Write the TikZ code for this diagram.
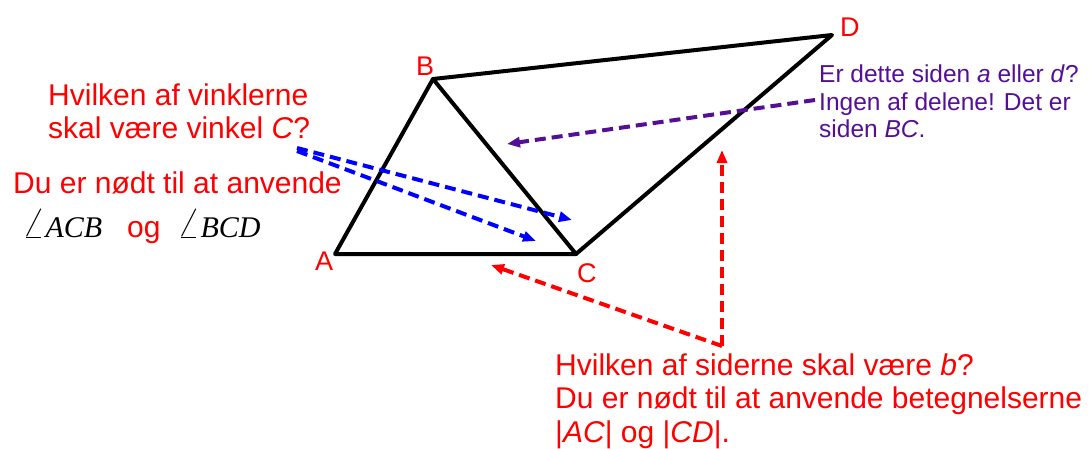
\documentclass[tikz,border=0pt]{standalone}
\usepackage{graphicx}
\usepackage{fontspec}
\setmainfont{Liberation Sans}
\newfontfamily\serifit{Liberation Serif}
\usetikzlibrary{arrows.meta}
\definecolor{myred}{RGB}{255,0,0}
\definecolor{myblue}{RGB}{0,0,255}
\definecolor{mypurple}{RGB}{85,15,150}
\newcommand{\myang}{\scalebox{1.45}{$\angle$}}
\begin{document}
\begin{tikzpicture}[x=1pt,y=-1pt,
  edge/.style={line width=4pt,line join=round,line cap=round},
  darrow/.style={line width=4pt,dash pattern=on 11pt off 6pt,-{Triangle[length=13pt,width=10pt]}},
  txt/.style={anchor=base west,inner sep=0pt,font=\fontsize{30}{33}\selectfont},
  ptxt/.style={anchor=base west,inner sep=0pt,font=\fontsize{24.5}{28}\selectfont,text=mypurple},
  lbl/.style={anchor=base west,inner sep=0pt,font=\fontsize{27}{30}\selectfont,text=myred}]
\useasboundingbox (0,0) rectangle (1089,448);
% vertices
\coordinate (A) at (335,254);
\coordinate (B) at (433,79);
\coordinate (C) at (576,254);
\coordinate (D) at (832,35);
\draw[edge] (A) -- (B) -- (D) -- (C) -- cycle;
\draw[edge] (B) -- (C);
% vertex labels
\node[lbl] (lA) at (315,270) {A};
\node[lbl] (lB) at (416,75) {B};
\node[lbl] (lC) at (577,282) {C};
\node[lbl] (lD) at (840,36) {D};
% left texts
\node[txt,text=myred] (q1) at (48,105) {Hvilken af vinklerne};
\node[txt,text=myred] (q2) at (48,138) {skal være vinkel \textit{C}?};
\node[txt,text=myred] (q3) at (13,193) {Du er nødt til at anvende};
\node[txt] (m1) at (22,237) {\myang{\serifit\itshape ACB}};
\node[txt,text=myred] (og) at (127,237) {og};
\node[txt] (m2) at (177,237) {\myang{\serifit\itshape BCD}};
% purple text
\node[ptxt] (p1) at (819,82) {Er dette siden \textit{a} eller \textit{d}?};
\node[ptxt] (p2) at (819,110) {Ingen af delene! Det er};
\node[ptxt] (p3) at (819,137) {siden \textit{BC}.};
% bottom text
\node[txt,text=myred] (b1) at (555,375) {Hvilken af siderne skal være \textit{b}?};
\node[txt,text=myred] (b2) at (555,408) {Du er nødt til at anvende betegnelserne};
\node[txt,text=myred] (b3) at (555,442) {|\textit{AC}| og |\textit{CD}|.};
% arrows
\coordinate (bs1) at (297,148);
\coordinate (bs2) at (297,151);
\coordinate (be1) at (572,220);
\coordinate (be2) at (536,241);
\draw[darrow,myblue] (bs1) -- (be1);
\draw[darrow,myblue] (bs2) -- (be2);
\coordinate (ps) at (815,100);
\coordinate (pe) at (507,144);
\draw[darrow,mypurple] (ps) -- (pe);
\coordinate (rs) at (722,346);
\coordinate (re1) at (722,150);
\coordinate (re2) at (491,265);
\draw[darrow,myred] (rs) -- (re1);
\draw[darrow,myred] (rs) -- (re2);
\end{tikzpicture}
\end{document}
